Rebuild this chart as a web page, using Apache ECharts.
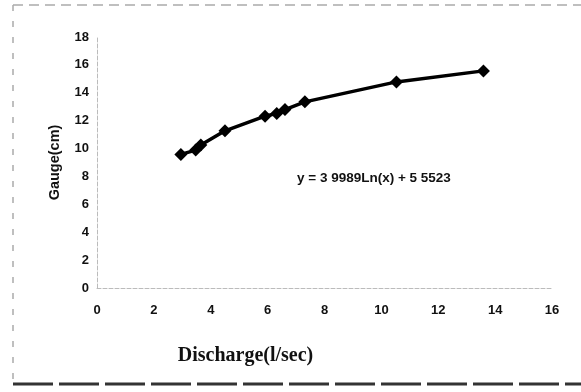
<!DOCTYPE html>
<html>
<head>
<meta charset="utf-8">
<script src="https://cdn.jsdelivr.net/npm/echarts@6/dist/echarts.min.js"></script>
<style>html,body{margin:0;padding:0;background:#fff}#c{width:581px;height:392px}</style>
</head>
<body>
<div id="c"></div>
<script>
var discharge = [2.95, 3.47, 3.65, 4.5, 5.91, 6.32, 6.61, 7.31, 10.53, 13.59];
var gauge = [9.58, 9.89, 10.25, 11.27, 12.32, 12.52, 12.8, 13.35, 14.78, 15.57];
var xTicks = [0, 2, 4, 6, 8, 10, 12, 14, 16];
var yTicks = [0, 2, 4, 6, 8, 10, 12, 14, 16, 18];
var xTitle = 'Discharge(l/sec)';
var yTitle = 'Gauge(cm)';
var equation = 'y = 3 9989Ln(x) + 5 5523';

var pts = discharge.map(function (x, i) { return [x, gauge[i]]; });
var chart = echarts.init(document.getElementById('c'), null, {renderer: 'canvas'});
var labelFont = {color: '#111', fontFamily: 'Liberation Sans, Arial', fontWeight: 'bold', fontSize: 13};
chart.setOption({
  animation: false,
  backgroundColor: '#fff',
  grid: {left: 97, right: 29, top: 37, bottom: 104},
  xAxis: {
    type: 'value', min: xTicks[0], max: xTicks[xTicks.length - 1], interval: 2,
    axisLine: {show: true, lineStyle: {color: '#bbb', type: 'dashed', width: 1}},
    axisTick: {show: false}, splitLine: {show: false},
    axisLabel: Object.assign({margin: 16}, labelFont),
    name: xTitle, nameLocation: 'middle', nameGap: 58,
    nameTextStyle: {fontFamily: 'Liberation Serif, Times New Roman', fontWeight: 'bold', fontSize: 20, color: '#111', padding: [0, 158, 0, 0]}
  },
  yAxis: {
    type: 'value', min: yTicks[0], max: yTicks[yTicks.length - 1], interval: 2,
    axisLine: {show: true, lineStyle: {color: '#bbb', type: 'dashed', width: 1}},
    axisTick: {show: false}, splitLine: {show: false},
    axisLabel: Object.assign({margin: 8}, labelFont),
    name: yTitle, nameLocation: 'middle', nameGap: 35, nameRotate: 90,
    nameTextStyle: {fontFamily: 'Liberation Sans, Arial', fontWeight: 'bold', fontSize: 14.5, color: '#111'}
  },
  graphic: [
    {type: 'line', shape: {x1: 13, y1: 5, x2: 581, y2: 5}, style: {stroke: '#aaa', lineWidth: 1.5, lineDash: [10, 6]}},
    {type: 'line', shape: {x1: 13, y1: 5, x2: 13, y2: 383}, style: {stroke: '#aaa', lineWidth: 1.5, lineDash: [6, 10]}},
    {type: 'line', shape: {x1: 13, y1: 384, x2: 581, y2: 384}, style: {stroke: '#333', lineWidth: 3, lineDash: [40, 6]}},
    {type: 'text', left: 297, top: 171, style: {text: equation, fill: '#111', font: 'bold 13.5px "Liberation Sans", Arial'}}
  ],
  series: [{
    type: 'line', data: pts, smooth: false,
    symbol: 'diamond', symbolSize: 13,
    lineStyle: {color: '#000', width: 3.5},
    itemStyle: {color: '#000'}
  }]
});
</script>
</body>
</html>
